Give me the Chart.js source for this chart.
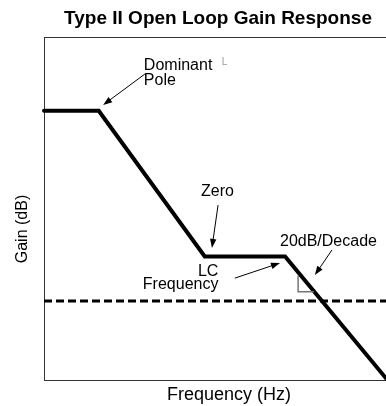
<!DOCTYPE html>
<html>
<head>
<meta charset="utf-8">
<script src="https://cdn.jsdelivr.net/npm/chart.js@4.4.1/dist/chart.umd.min.js"></script>
<style>
  html, body { margin: 0; padding: 0; background: #fff; overflow: hidden; }
  canvas { display: block; }
</style>
</head>
<body>
<canvas id="chartGanho" width="386" height="406"></canvas>
<script>
// asymptotic gain curve (arbitrary units, 0..100 on both axes)
const freq = [0, 16, 47, 70.5, 100];
const gain = [78.5, 78.5, 36, 36, 0.5];
// 0 dB crossover reference
const refFreq = [0, 100];
const refGain = [23, 23];

// annotations in data units
const labels = [
  { text: 'Dominant', x: 29.2, y: 90.4 },
  { text: 'Pole', x: 29.2, y: 86.0 },
  { text: 'Zero', x: 45.9, y: 53.6 },
  { text: 'LC', x: 45.0, y: 30.3 },
  { text: 'Frequency', x: 28.9, y: 26.5 },
  { text: '20dB/Decade', x: 69.0, y: 39.1 }
];
const arrows = [
  [29.5, 89.2, 17.3, 80.2],
  [50.9, 51.0, 49.1, 38.5],
  [55.8, 29.7, 69.0, 34.1],
  [84.2, 37.9, 79.2, 30.6]
];

const ctx = document.getElementById('chartGanho');

const notas = {
  id: 'notas',
  afterDatasetsDraw(chart) {
    const c = chart.ctx;
    const sx = chart.scales.x, sy = chart.scales.y;
    const px = v => sx.getPixelForValue(v);
    const py = v => sy.getPixelForValue(v);
    c.save();
    c.fillStyle = '#000';
    c.textBaseline = 'alphabetic';

    // labels
    c.font = '16px "Liberation Sans", Arial, sans-serif';
    c.textAlign = 'left';
    labels.forEach(l => c.fillText(l.text, px(l.x), py(l.y)));

    // little mark after "Dominant"
    c.fillStyle = '#999';
    c.font = '10px "Liberation Sans", Arial, sans-serif';
    c.fillText('L', px(52.0), py(91.8));

    // arrows
    c.strokeStyle = '#000';
    c.fillStyle = '#000';
    c.lineWidth = 1;
    arrows.forEach(a => {
      const x1 = px(a[0]), y1 = py(a[1]), x2 = px(a[2]), y2 = py(a[3]);
      const ang = Math.atan2(y2 - y1, x2 - x1);
      c.beginPath();
      c.moveTo(x1, y1);
      c.lineTo(x2 - 6 * Math.cos(ang), y2 - 6 * Math.sin(ang));
      c.stroke();
      c.beginPath();
      c.moveTo(x2, y2);
      c.lineTo(x2 - 9 * Math.cos(ang) + 3.2 * Math.sin(ang), y2 - 9 * Math.sin(ang) - 3.2 * Math.cos(ang));
      c.lineTo(x2 - 9 * Math.cos(ang) - 3.2 * Math.sin(ang), y2 - 9 * Math.sin(ang) + 3.2 * Math.cos(ang));
      c.closePath();
      c.fill();
    });

    // right angle marker
    c.strokeStyle = '#777';
    c.lineWidth = 1.5;
    c.beginPath();
    c.moveTo(px(74.3), py(30.5));
    c.lineTo(px(74.3), py(25.7));
    c.lineTo(px(78.9), py(25.7));
    c.stroke();

    // titles
    const area = chart.chartArea;
    c.fillStyle = '#000';
    c.textAlign = 'center';
    c.font = 'bold 19px "Liberation Sans", Arial, sans-serif';
    c.fillText('Type II Open Loop Gain Response', 218, 24);
    c.font = '18px "Liberation Sans", Arial, sans-serif';
    c.fillText('Frequency (Hz)', 229, area.bottom + 20);
    c.save();
    c.translate(27, 229);
    c.rotate(-Math.PI / 2);
    c.font = '16px "Liberation Sans", Arial, sans-serif';
    c.fillText('Gain (dB)', 0, 0);
    c.restore();
    c.restore();
  }
};

const eixo = (pos, fit) => ({
  type: 'linear',
  position: pos,
  min: 0,
  max: 100,
  ticks: { display: false },
  grid: { display: false, drawTicks: false },
  border: { display: true, color: '#333', width: 1 },
  afterFit: fit
});

let chartGanho = new Chart(ctx, {
  type: 'line',
  data: {
    datasets: [
      {
        label: 'Gain',
        data: freq.map((f, i) => ({ x: f, y: gain[i] })),
        borderColor: '#000',
        borderWidth: 4,
        borderCapStyle: 'round',
        borderJoinStyle: 'miter',
        pointRadius: 0,
        tension: 0,
        clip: false
      },
      {
        label: '0 dB',
        data: refFreq.map((f, i) => ({ x: f, y: refGain[i] })),
        borderColor: '#000',
        borderWidth: 3,
        borderDash: [8, 4],
        pointRadius: 0,
        clip: false
      }
    ]
  },
  options: {
    responsive: false,
    animation: false,
    layout: { padding: { top: 37, right: 0, left: 0, bottom: 0 } },
    plugins: {
      legend: { display: false },
      tooltip: { enabled: false },
      title: { display: false }
    },
    scales: {
      x: eixo('bottom', s => { s.height = 26; }),
      x2: eixo('top', s => { s.height = 0; }),
      y: eixo('left', s => { s.width = 44; })
    }
  },
  plugins: [notas]
});
</script>
</body>
</html>
